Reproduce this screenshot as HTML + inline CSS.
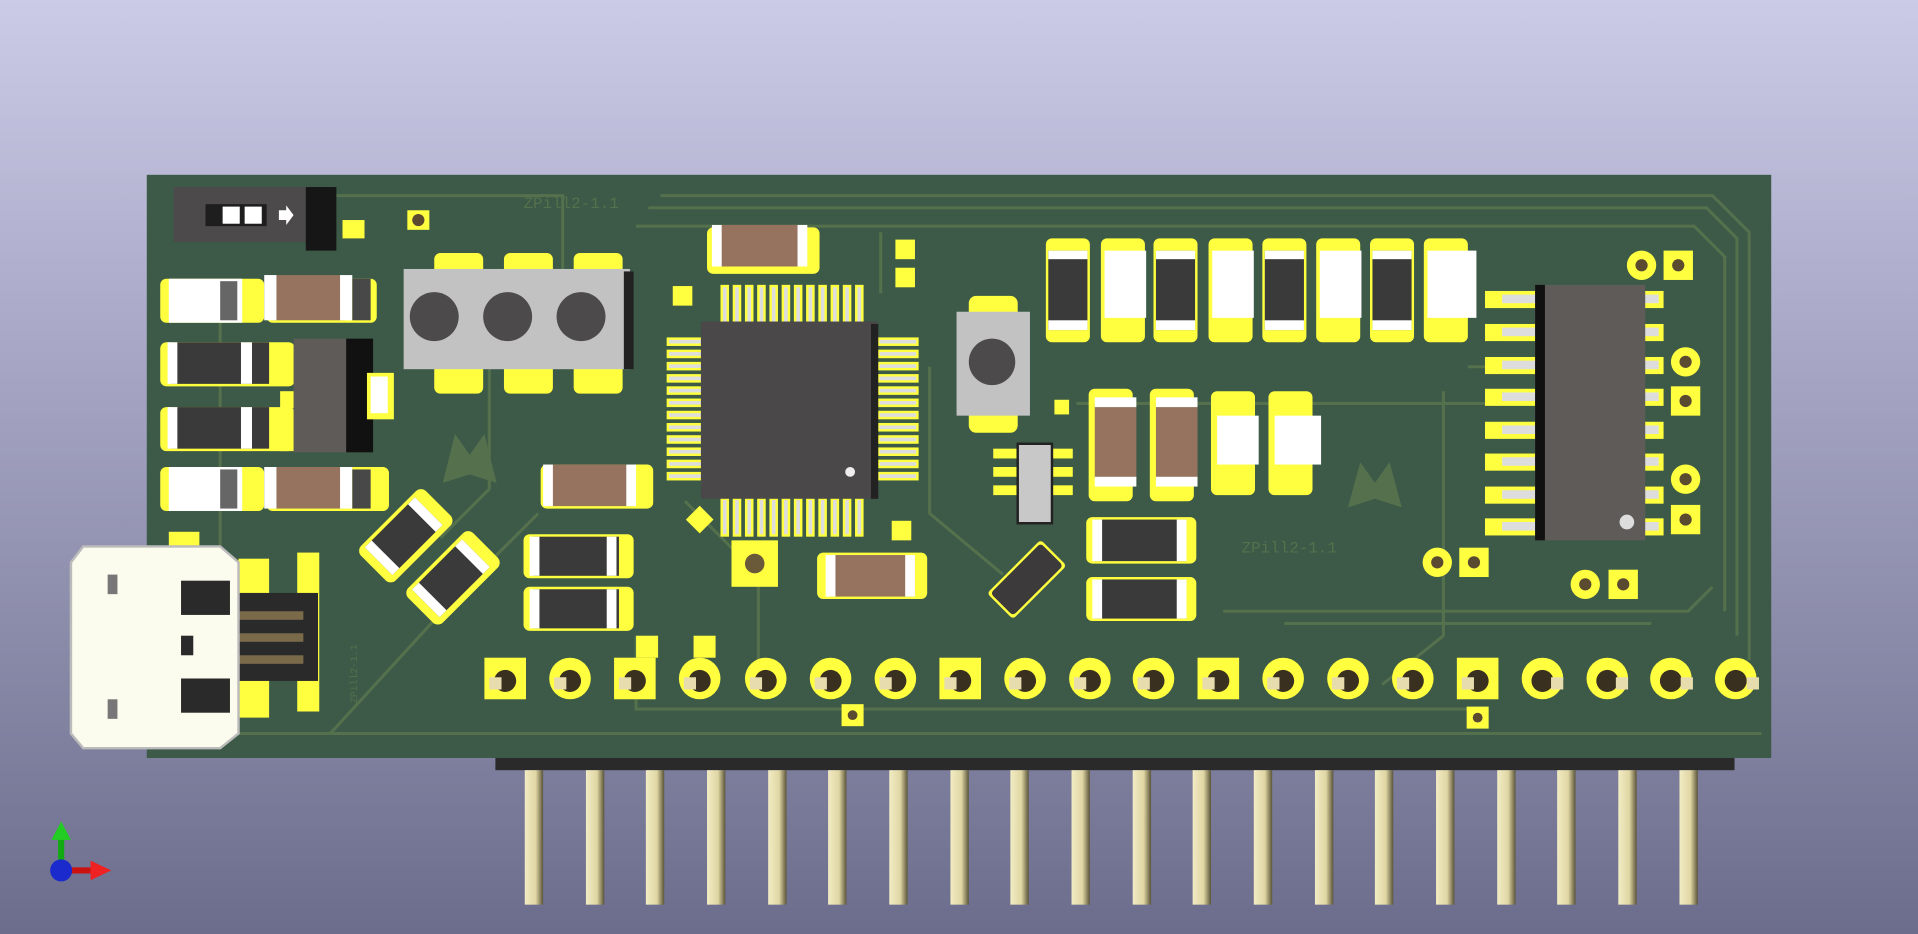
<!DOCTYPE html>
<html><head><meta charset="utf-8"><style>
html,body{margin:0;padding:0;width:1918px;height:934px;overflow:hidden}
svg{display:block}
</style></head><body>
<svg width="1918" height="934" viewBox="0 0 1568 764" preserveAspectRatio="none" xmlns="http://www.w3.org/2000/svg">
<defs>
<linearGradient id="bg" x1="0" y1="0" x2="0" y2="1"><stop offset="0" stop-color="#cbcbe8"/><stop offset="1" stop-color="#6c6c8c"/></linearGradient>
<linearGradient id="pin" x1="0" y1="0" x2="1" y2="0"><stop offset="0" stop-color="#f2ecc4"/><stop offset="0.6" stop-color="#e0d6a4"/><stop offset="1" stop-color="#5a5438"/></linearGradient>
</defs>
<rect width="1568" height="764" fill="url(#bg)"/>
<!-- board -->
<rect x="120" y="143" width="1328" height="477" fill="#3c5a47"/>
<!-- traces -->
<g fill="none" stroke="#55704c" stroke-width="2.5">
<path d="M540 160 H1400 L1430 190 V540"/>
<path d="M530 170 H1395 L1420 195 V520"/>
<path d="M520 185 H1385 L1410 210 V500"/>
<path d="M180 160 H460 V300"/>
<path d="M180 250 V600 H1440"/>
<path d="M270 600 L380 480 L440 420"/>
<path d="M520 520 V580 H1200"/>
<path d="M1000 500 H1380 L1400 480"/>
<path d="M1050 510 H1350"/>
<path d="M760 300 V420 L820 470"/>
<path d="M720 190 V240"/>
<path d="M880 330 H1230"/>
<path d="M1180 320 V520 L1130 560"/>
<path d="M1200 300 H1240"/>
<path d="M560 410 L620 470 V540"/>
<path d="M400 300 V400 L360 440"/>
</g>
<text x="428" y="170" font-family="Liberation Mono,monospace" font-size="13" fill="#55704c">ZPill2-1.1</text>
<text x="1015" y="452" font-family="Liberation Mono,monospace" font-size="13" fill="#55704c">ZPill2-1.1</text>
<path d="M362 395 L372 355 L384 372 L396 355 L406 395 L384 388 Z" fill="#55704c"/>
<path d="M1102 415 L1112 378 L1124 395 L1136 378 L1146 415 L1124 408 Z" fill="#55704c"/>
<!-- switch -->
<rect x="142" y="153" width="130" height="45" fill="#4c4a4a"/>
<rect x="250" y="153" width="25" height="52" fill="#161616"/>
<rect x="168" y="167" width="50" height="18" fill="#1e1e1e"/>
<rect x="182" y="169" width="14" height="14" fill="#fff"/><rect x="200" y="169" width="14" height="14" fill="#fff"/>
<path d="M228 172 h6 v-4 l6 8 -6 8 v-4 h-6z" fill="#fff"/>
<rect x="280" y="180" width="18" height="15" fill="#ffff40"/>
<rect x="333" y="172" width="18" height="16" fill="#ffff40"/><circle cx="342" cy="180" r="5" fill="#5a4a30"/>
<!-- left column parts -->
<rect x="131" y="228" width="85" height="36" rx="5" fill="#ffff40"/><rect x="138" y="228" width="60" height="36" fill="#fff"/><rect x="180" y="230" width="14" height="32" fill="#666"/>
<rect x="218" y="228" width="90" height="36" rx="5" fill="#ffff40"/><rect x="222" y="225" width="60" height="37" fill="#96735f"/><rect x="216" y="225" width="10" height="37" fill="#fff"/><rect x="278" y="225" width="10" height="37" fill="#fff"/><rect x="288" y="228" width="15" height="34" fill="#484848"/>
<rect x="131" y="280" width="110" height="36" rx="5" fill="#ffff40"/><rect x="140" y="280" width="80" height="34" fill="#3a3a3a"/><rect x="137" y="280" width="8" height="34" fill="#fff"/><rect x="197" y="280" width="9" height="34" fill="#fff"/>
<rect x="131" y="333" width="110" height="36" rx="5" fill="#ffff40"/><rect x="140" y="333" width="80" height="34" fill="#3a3a3a"/><rect x="137" y="333" width="8" height="34" fill="#fff"/><rect x="197" y="333" width="9" height="34" fill="#fff"/>
<rect x="229" y="285" width="14" height="14" fill="#ffff40"/><rect x="229" y="320" width="14" height="14" fill="#ffff40"/><rect x="229" y="355" width="14" height="14" fill="#ffff40"/>
<rect x="240" y="277" width="60" height="93" fill="#5e5b58"/><rect x="283" y="277" width="22" height="93" fill="#111"/>
<rect x="300" y="305" width="22" height="38" fill="#ffff40"/><rect x="303" y="308" width="14" height="30" fill="#fff"/>
<rect x="131" y="382" width="85" height="36" rx="5" fill="#ffff40"/><rect x="138" y="382" width="60" height="36" fill="#fff"/><rect x="180" y="384" width="14" height="32" fill="#666"/>
<rect x="218" y="382" width="100" height="36" rx="5" fill="#ffff40"/><rect x="222" y="382" width="60" height="34" fill="#96735f"/><rect x="216" y="382" width="10" height="34" fill="#fff"/><rect x="278" y="382" width="10" height="34" fill="#fff"/><rect x="288" y="384" width="15" height="32" fill="#484848"/>
<!-- buttons -->
<rect x="355" y="207" width="40" height="115" rx="5" fill="#ffff40"/><rect x="412" y="207" width="40" height="115" rx="5" fill="#ffff40"/><rect x="469" y="207" width="40" height="115" rx="5" fill="#ffff40"/>
<rect x="330" y="220" width="185" height="82" fill="#c2c2c2"/><rect x="510" y="222" width="8" height="80" fill="#222"/>
<circle cx="355" cy="259" r="20" fill="#4c4a4a"/><circle cx="415" cy="259" r="20" fill="#4c4a4a"/><circle cx="475" cy="259" r="20" fill="#4c4a4a"/>
<!-- diagonal caps -->
<g transform="rotate(-45 330 440)"><rect x="295" y="420" width="75" height="40" rx="6" fill="#ffff40"/><rect x="302" y="423" width="58" height="32" fill="#3a3a3a"/><rect x="302" y="423" width="8" height="32" fill="#fff"/><rect x="352" y="423" width="8" height="32" fill="#fff"/></g>
<g transform="rotate(-45 370 473)"><rect x="333" y="453" width="75" height="40" rx="6" fill="#ffff40"/><rect x="340" y="456" width="58" height="32" fill="#3a3a3a"/><rect x="340" y="456" width="8" height="32" fill="#fff"/><rect x="390" y="456" width="8" height="32" fill="#fff"/></g>
<!-- caps around MCU -->
<rect x="578" y="186" width="92" height="38" rx="5" fill="#ffff40"/><rect x="586" y="184" width="72" height="34" fill="#96735f"/><rect x="582" y="184" width="8" height="34" fill="#fff"/><rect x="652" y="184" width="8" height="34" fill="#fff"/>
<rect x="442" y="380" width="92" height="36" rx="5" fill="#ffff40"/><rect x="448" y="380" width="70" height="34" fill="#96735f"/><rect x="444" y="380" width="8" height="34" fill="#fff"/><rect x="512" y="380" width="8" height="34" fill="#fff"/>
<rect x="428" y="437" width="90" height="36" rx="5" fill="#ffff40"/><rect x="436" y="439" width="70" height="32" fill="#3a3a3a"/><rect x="433" y="439" width="8" height="32" fill="#fff"/><rect x="496" y="439" width="8" height="32" fill="#fff"/>
<rect x="428" y="480" width="90" height="36" rx="5" fill="#ffff40"/><rect x="436" y="482" width="70" height="32" fill="#3a3a3a"/><rect x="433" y="482" width="8" height="32" fill="#fff"/><rect x="496" y="482" width="8" height="32" fill="#fff"/>
<rect x="668" y="452" width="90" height="38" rx="5" fill="#ffff40"/><rect x="678" y="454" width="70" height="34" fill="#96735f"/><rect x="675" y="454" width="8" height="34" fill="#fff"/><rect x="740" y="454" width="8" height="34" fill="#fff"/>
<rect x="598" y="442" width="38" height="38" fill="#ffff40"/><circle cx="617" cy="461" r="8" fill="#6a5a3a"/>
<rect x="550" y="234" width="16" height="16" fill="#ffff40"/><rect x="732" y="196" width="16" height="16" fill="#ffff40"/><rect x="732" y="219" width="16" height="16" fill="#ffff40"/><rect x="729" y="426" width="16" height="16" fill="#ffff40"/>
<rect x="564" y="417" width="16" height="16" fill="#ffff40" transform="rotate(45 572 425)"/>
<!-- MCU pins -->
<g fill="#ddd" stroke="#ffff40" stroke-width="2">
<rect x="590" y="234" width="5" height="30"/><rect x="600" y="234" width="5" height="30"/><rect x="610" y="234" width="5" height="30"/><rect x="620" y="234" width="5" height="30"/><rect x="630" y="234" width="5" height="30"/><rect x="640" y="234" width="5" height="30"/><rect x="650" y="234" width="5" height="30"/><rect x="660" y="234" width="5" height="30"/><rect x="670" y="234" width="5" height="30"/><rect x="680" y="234" width="5" height="30"/><rect x="690" y="234" width="5" height="30"/><rect x="700" y="234" width="5" height="30"/>
<rect x="590" y="408" width="5" height="30"/><rect x="600" y="408" width="5" height="30"/><rect x="610" y="408" width="5" height="30"/><rect x="620" y="408" width="5" height="30"/><rect x="630" y="408" width="5" height="30"/><rect x="640" y="408" width="5" height="30"/><rect x="650" y="408" width="5" height="30"/><rect x="660" y="408" width="5" height="30"/><rect x="670" y="408" width="5" height="30"/><rect x="680" y="408" width="5" height="30"/><rect x="690" y="408" width="5" height="30"/><rect x="700" y="408" width="5" height="30"/>
<rect x="546" y="277" width="28" height="5"/><rect x="546" y="287" width="28" height="5"/><rect x="546" y="297" width="28" height="5"/><rect x="546" y="307" width="28" height="5"/><rect x="546" y="317" width="28" height="5"/><rect x="546" y="327" width="28" height="5"/><rect x="546" y="337" width="28" height="5"/><rect x="546" y="347" width="28" height="5"/><rect x="546" y="357" width="28" height="5"/><rect x="546" y="367" width="28" height="5"/><rect x="546" y="377" width="28" height="5"/><rect x="546" y="387" width="28" height="5"/>
<rect x="718" y="277" width="32" height="5"/><rect x="718" y="287" width="32" height="5"/><rect x="718" y="297" width="32" height="5"/><rect x="718" y="307" width="32" height="5"/><rect x="718" y="317" width="32" height="5"/><rect x="718" y="327" width="32" height="5"/><rect x="718" y="337" width="32" height="5"/><rect x="718" y="347" width="32" height="5"/><rect x="718" y="357" width="32" height="5"/><rect x="718" y="367" width="32" height="5"/><rect x="718" y="377" width="32" height="5"/><rect x="718" y="387" width="32" height="5"/>
</g>
<rect x="573" y="263" width="144" height="145" fill="#4a4848"/><rect x="712" y="265" width="6" height="143" fill="#222"/>
<circle cx="695" cy="386" r="4" fill="#eee"/>
<!-- reset button -->
<rect x="792" y="242" width="40" height="112" rx="6" fill="#ffff40"/>
<rect x="782" y="255" width="60" height="85" fill="#c2c2c2"/><circle cx="811" cy="296" r="19" fill="#4c4a4a"/>
<!-- SOT -->
<rect x="812" y="367" width="65" height="8" fill="#ffff40"/><rect x="812" y="382" width="65" height="8" fill="#ffff40"/><rect x="812" y="397" width="65" height="8" fill="#ffff40"/>
<rect x="832" y="363" width="28" height="65" fill="#c8c8c8" stroke="#222" stroke-width="2"/>
<rect x="862" y="327" width="12" height="12" fill="#ffff40"/>
<!-- diagonal crystal -->
<g transform="rotate(-45 838 474)"><rect x="808" y="460" width="62" height="30" rx="3" fill="#ffff40"/><rect x="810" y="462" width="58" height="26" rx="3" fill="#3c3a3a"/></g>
<!-- top caps row -->
<g>
<rect x="855" y="195" width="36" height="85" rx="5" fill="#ffff40"/><rect x="857" y="205" width="32" height="65" fill="#3a3a3a"/><rect x="857" y="262" width="32" height="8" fill="#fff"/><rect x="857" y="205" width="32" height="7" fill="#fff"/>
<rect x="900" y="195" width="36" height="85" rx="5" fill="#ffff40"/><rect x="903" y="205" width="34" height="55" fill="#fff"/>
<rect x="943" y="195" width="36" height="85" rx="5" fill="#ffff40"/><rect x="945" y="205" width="32" height="65" fill="#3a3a3a"/><rect x="945" y="262" width="32" height="8" fill="#fff"/><rect x="945" y="205" width="32" height="7" fill="#fff"/>
<rect x="988" y="195" width="36" height="85" rx="5" fill="#ffff40"/><rect x="991" y="205" width="34" height="55" fill="#fff"/>
<rect x="1032" y="195" width="36" height="85" rx="5" fill="#ffff40"/><rect x="1034" y="205" width="32" height="65" fill="#3a3a3a"/><rect x="1034" y="262" width="32" height="8" fill="#fff"/><rect x="1034" y="205" width="32" height="7" fill="#fff"/>
<rect x="1076" y="195" width="36" height="85" rx="5" fill="#ffff40"/><rect x="1079" y="205" width="34" height="55" fill="#fff"/>
<rect x="1120" y="195" width="36" height="85" rx="5" fill="#ffff40"/><rect x="1122" y="205" width="32" height="65" fill="#3a3a3a"/><rect x="1122" y="262" width="32" height="8" fill="#fff"/><rect x="1122" y="205" width="32" height="7" fill="#fff"/>
<rect x="1164" y="195" width="36" height="85" rx="5" fill="#ffff40"/><rect x="1167" y="205" width="40" height="55" fill="#fff"/>
</g>
<!-- middle caps -->
<rect x="890" y="318" width="36" height="92" rx="5" fill="#ffff40"/><rect x="895" y="330" width="34" height="62" fill="#96735f"/><rect x="895" y="325" width="34" height="8" fill="#fff"/><rect x="895" y="390" width="34" height="8" fill="#fff"/>
<rect x="940" y="318" width="36" height="92" rx="5" fill="#ffff40"/><rect x="945" y="330" width="34" height="62" fill="#96735f"/><rect x="945" y="325" width="34" height="8" fill="#fff"/><rect x="945" y="390" width="34" height="8" fill="#fff"/>
<rect x="990" y="320" width="36" height="85" rx="5" fill="#ffff40"/><rect x="995" y="340" width="34" height="40" fill="#fff"/>
<rect x="1037" y="320" width="36" height="85" rx="5" fill="#ffff40"/><rect x="1042" y="340" width="38" height="40" fill="#fff"/>
<rect x="888" y="423" width="90" height="38" rx="5" fill="#ffff40"/><rect x="895" y="425" width="75" height="34" fill="#3a3a3a"/><rect x="893" y="425" width="8" height="34" fill="#fff"/><rect x="962" y="425" width="8" height="34" fill="#fff"/>
<rect x="888" y="472" width="90" height="36" rx="5" fill="#ffff40"/><rect x="895" y="474" width="75" height="32" fill="#3a3a3a"/><rect x="893" y="474" width="8" height="32" fill="#fff"/><rect x="962" y="474" width="8" height="32" fill="#fff"/>
<!-- right IC -->
<g fill="#ffff40">
<rect x="1214" y="238" width="48" height="14"/><rect x="1214" y="265" width="48" height="14"/><rect x="1214" y="292" width="48" height="14"/><rect x="1214" y="318" width="48" height="14"/><rect x="1214" y="345" width="48" height="14"/><rect x="1214" y="371" width="48" height="14"/><rect x="1214" y="398" width="48" height="14"/><rect x="1214" y="424" width="48" height="14"/>
<rect x="1338" y="238" width="22" height="14"/><rect x="1338" y="265" width="22" height="14"/><rect x="1338" y="292" width="22" height="14"/><rect x="1338" y="318" width="22" height="14"/><rect x="1338" y="345" width="22" height="14"/><rect x="1338" y="371" width="22" height="14"/><rect x="1338" y="398" width="22" height="14"/><rect x="1338" y="424" width="22" height="14"/>
</g>
<g fill="#ddd"><rect x="1228" y="241" width="30" height="7"/><rect x="1228" y="268" width="30" height="7"/><rect x="1228" y="295" width="30" height="7"/><rect x="1228" y="321" width="30" height="7"/><rect x="1228" y="348" width="30" height="7"/><rect x="1228" y="374" width="30" height="7"/><rect x="1228" y="401" width="30" height="7"/><rect x="1228" y="427" width="30" height="7"/>
<rect x="1344" y="241" width="12" height="7"/><rect x="1344" y="268" width="12" height="7"/><rect x="1344" y="295" width="12" height="7"/><rect x="1344" y="321" width="12" height="7"/><rect x="1344" y="348" width="12" height="7"/><rect x="1344" y="374" width="12" height="7"/><rect x="1344" y="401" width="12" height="7"/><rect x="1344" y="427" width="12" height="7"/></g>
<rect x="1255" y="233" width="90" height="209" fill="#5e5b58"/><rect x="1255" y="233" width="8" height="209" fill="#111"/>
<circle cx="1330" cy="427" r="6" fill="#ddd"/>
<!-- small pads right -->
<g fill="#ffff40">
<circle cx="1342" cy="217" r="12"/><rect x="1360" y="205" width="24" height="24"/>
<circle cx="1378" cy="296" r="12"/><rect x="1366" y="316" width="24" height="24"/>
<circle cx="1378" cy="392" r="12"/><rect x="1366" y="413" width="24" height="24"/>
<circle cx="1175" cy="460" r="12"/><rect x="1193" y="448" width="24" height="24"/>
<circle cx="1296" cy="478" r="12"/><rect x="1315" y="466" width="24" height="24"/>
<rect x="688" y="576" width="18" height="18"/><rect x="1199" y="578" width="18" height="18"/>
<rect x="520" y="520" width="18" height="18"/><rect x="567" y="520" width="18" height="18"/>
</g>
<g fill="#5a4a30"><circle cx="1342" cy="217" r="5"/><circle cx="1372" cy="217" r="5"/><circle cx="1378" cy="296" r="5"/><circle cx="1378" cy="328" r="5"/><circle cx="1378" cy="392" r="5"/><circle cx="1378" cy="425" r="5"/><circle cx="1175" cy="460" r="5"/><circle cx="1205" cy="460" r="5"/><circle cx="1296" cy="478" r="5"/><circle cx="1327" cy="478" r="5"/><circle cx="697" cy="585" r="4"/><circle cx="1208" cy="587" r="4"/></g>
<!-- header pads -->
<g fill="#ffff40">
<rect x="396" y="538" width="34" height="34"/><circle cx="466" cy="555" r="17"/><rect x="502" y="538" width="34" height="34"/><circle cx="572" cy="555" r="17"/><circle cx="626" cy="555" r="17"/><circle cx="679" cy="555" r="17"/><circle cx="732" cy="555" r="17"/><rect x="768" y="538" width="34" height="34"/><circle cx="838" cy="555" r="17"/><circle cx="891" cy="555" r="17"/><circle cx="943" cy="555" r="17"/><rect x="979" y="538" width="34" height="34"/><circle cx="1049" cy="555" r="17"/><circle cx="1102" cy="555" r="17"/><circle cx="1155" cy="555" r="17"/><rect x="1191" y="538" width="34" height="34"/><circle cx="1261" cy="555" r="17"/><circle cx="1314" cy="555" r="17"/><circle cx="1366" cy="555" r="17"/><circle cx="1419" cy="555" r="17"/>
</g>
<g fill="#3a3020"><circle cx="413" cy="557" r="9"/><circle cx="466" cy="557" r="9"/><circle cx="519" cy="557" r="9"/><circle cx="572" cy="557" r="9"/><circle cx="626" cy="557" r="9"/><circle cx="679" cy="557" r="9"/><circle cx="732" cy="557" r="9"/><circle cx="785" cy="557" r="9"/><circle cx="838" cy="557" r="9"/><circle cx="891" cy="557" r="9"/><circle cx="943" cy="557" r="9"/><circle cx="996" cy="557" r="9"/><circle cx="1049" cy="557" r="9"/><circle cx="1102" cy="557" r="9"/><circle cx="1155" cy="557" r="9"/><circle cx="1208" cy="557" r="9"/><circle cx="1261" cy="557" r="9"/><circle cx="1314" cy="557" r="9"/><circle cx="1366" cy="557" r="9"/><circle cx="1419" cy="557" r="9"/></g>
<g fill="#e6dcae"><rect x="400" y="554" width="10" height="10"/><rect x="453" y="554" width="10" height="10"/><rect x="506" y="554" width="10" height="10"/><rect x="559" y="554" width="10" height="10"/><rect x="613" y="554" width="10" height="10"/><rect x="666" y="554" width="10" height="10"/><rect x="719" y="554" width="10" height="10"/><rect x="772" y="554" width="10" height="10"/><rect x="825" y="554" width="10" height="10"/><rect x="878" y="554" width="10" height="10"/><rect x="930" y="554" width="10" height="10"/><rect x="983" y="554" width="10" height="10"/><rect x="1036" y="554" width="10" height="10"/><rect x="1089" y="554" width="10" height="10"/><rect x="1142" y="554" width="10" height="10"/><rect x="1195" y="554" width="10" height="10"/><rect x="1268" y="554" width="10" height="10"/><rect x="1321" y="554" width="10" height="10"/><rect x="1374" y="554" width="10" height="10"/><rect x="1428" y="554" width="10" height="10"/></g>
<!-- USB area pads -->
<rect x="138" y="435" width="25" height="18" fill="#ffff40"/>
<rect x="195" y="457" width="25" height="130" fill="#ffff40"/><rect x="243" y="452" width="18" height="130" fill="#ffff40"/>
<rect x="188" y="485" width="72" height="72" fill="#2a2a2a"/>
<rect x="183" y="500" width="65" height="7" fill="#7a6a4a"/><rect x="183" y="518" width="65" height="7" fill="#7a6a4a"/><rect x="183" y="536" width="65" height="7" fill="#7a6a4a"/>
<text x="292" y="575" font-family="Liberation Mono,monospace" font-size="8" fill="#55704c" transform="rotate(-90 292 575)">ZPill2-1.1</text>
<!-- USB connector -->
<path d="M68 447 L180 447 L195 460 L195 600 L180 612 L68 612 L58 600 L58 460 Z" fill="#fbfbee" stroke="#bbb" stroke-width="2"/>
<rect x="148" y="475" width="40" height="28" fill="#2a2a2a"/><rect x="148" y="555" width="40" height="28" fill="#2a2a2a"/>
<rect x="148" y="520" width="10" height="16" fill="#2a2a2a"/>
<rect x="88" y="470" width="8" height="16" fill="#777"/><rect x="88" y="572" width="8" height="16" fill="#777"/>
<!-- header base & pins -->
<rect x="405" y="620" width="1013" height="10" fill="#2a2a2a"/>
<g fill="url(#pin)">
<rect x="429" y="630" width="15" height="110"/><rect x="479" y="630" width="15" height="110"/><rect x="528" y="630" width="15" height="110"/><rect x="578" y="630" width="15" height="110"/><rect x="628" y="630" width="15" height="110"/><rect x="677" y="630" width="15" height="110"/><rect x="727" y="630" width="15" height="110"/><rect x="777" y="630" width="15" height="110"/><rect x="826" y="630" width="15" height="110"/><rect x="876" y="630" width="15" height="110"/><rect x="926" y="630" width="15" height="110"/><rect x="975" y="630" width="15" height="110"/><rect x="1025" y="630" width="15" height="110"/><rect x="1075" y="630" width="15" height="110"/><rect x="1124" y="630" width="15" height="110"/><rect x="1174" y="630" width="15" height="110"/><rect x="1224" y="630" width="15" height="110"/><rect x="1273" y="630" width="15" height="110"/><rect x="1323" y="630" width="15" height="110"/><rect x="1373" y="630" width="15" height="110"/>
</g>
<!-- axes -->
<line x1="50" y1="712" x2="50" y2="685" stroke="#1a1" stroke-width="5"/><path d="M42 687 L50 672 L58 687Z" fill="#2c2"/>
<line x1="50" y1="712" x2="76" y2="712" stroke="#c11" stroke-width="5"/><path d="M74 704 L91 712 L74 720Z" fill="#e22"/>
<circle cx="50" cy="712" r="9" fill="#1a2acc"/>
</svg>
</body></html>
